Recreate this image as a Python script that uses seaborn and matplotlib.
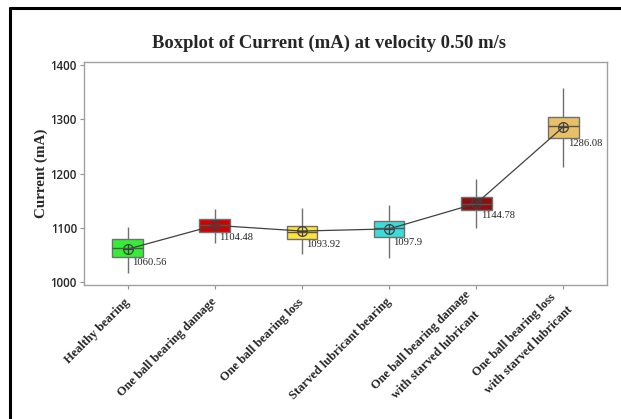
import numpy as np
import pandas as pd
import seaborn as sns
import matplotlib
matplotlib.use("Agg")
import matplotlib.pyplot as plt
from matplotlib.lines import Line2D

categories = [
    "Healthy bearing",
    "One ball bearing damage",
    "One ball bearing loss",
    "Starved lubricant bearing",
    "One ball bearing damage\nwith starved lubricant",
    "One ball bearing loss\nwith starved lubricant",
]
whisker_low = [1017, 1071, 1051, 1045, 1099, 1212]
q1 = [1047, 1093, 1080, 1083, 1133, 1266]
median = [1062, 1105, 1092, 1099, 1143, 1288]
q3 = [1079, 1116, 1104, 1113, 1157, 1304]
whisker_high = [1102, 1134, 1136, 1142, 1189, 1358]
means = [1060.56, 1104.48, 1093.92, 1097.9, 1144.78, 1286.08]
mean_labels = ["1060.56", "1104.48", "1093.92", "1097.9", "1144.78", "1286.08"]
colors = ["#33ee33", "#d40000", "#ffe23a", "#3cdcdc", "#8c1010", "#e8c068"]
yticks = [1000, 1100, 1200, 1300, 1400]

rows = []
for c, a, b, m, d, e in zip(categories, whisker_low, q1, median, q3, whisker_high):
    for v in (a, b, m, d, e):
        rows.append({"group": c, "current": v})
df = pd.DataFrame(rows)

sns.set_style("white")
fig = plt.figure(figsize=(6.21, 4.19), dpi=100)
ax = fig.add_axes([84 / 621, 1 - 285 / 419, (607 - 84) / 621, (285 - 62) / 419])

edge = "#707070"
sns.boxplot(data=df, x="group", y="current", hue="group", order=categories,
            palette=colors, saturation=1, legend=False, whis=(0, 100),
            width=0.35, linewidth=1.0, linecolor=edge, ax=ax,
            medianprops={"color": "#555555", "linewidth": 1.0},
            whiskerprops={"color": edge}, capprops={"linewidth": 0},
            showfliers=False)

sns.pointplot(x=categories, y=means, order=categories, color="#404040",
              markers="o", markersize=7, markerfacecolor="none",
              markeredgecolor="#404040", markeredgewidth=0.9,
              linewidth=0.9, errorbar=None, ax=ax)
ax.scatter(np.arange(len(categories)), means, marker="+", s=55,
           color="#404040", linewidths=0.9, zorder=5)

for i, (lo, lab) in enumerate(zip(q1, mean_labels)):
    ax.text(i + 0.05, lo - 2.5, lab, ha="left", va="top",
            fontsize=7.6, family="Liberation Serif", color="#222222")

ax.set_xlim(-0.5, 5.5)
ax.set_ylim(994.5, 1405.5)
ax.set_yticks(yticks)
ax.set_yticklabels([str(t) for t in yticks], fontsize=8.3,
                   family="Open Sans", fontweight="semibold")
ax.set_xticks(range(len(categories)))
ax.set_xticklabels(categories, rotation=45, ha="right", va="center",
                   rotation_mode="anchor", fontsize=9,
                   family="Liberation Serif", fontweight="bold",
                   multialignment="center", linespacing=2.0)
ax.tick_params(axis="both", which="both", direction="out", length=3,
               width=0.8, color="#909090", bottom=True, left=True)
ax.tick_params(axis="x", pad=8)
ax.tick_params(axis="y", pad=2)
ax.set_xlabel("")
ax.set_ylabel("Current (mA)", fontsize=10.8, family="Liberation Serif",
              fontweight="bold", labelpad=2)
for s in ax.spines.values():
    s.set_color("#a0a0a0")
    s.set_linewidth(1.0)

fig.text(329 / 621, 1 - 43 / 419, "Boxplot of Current (mA) at velocity 0.50 m/s",
         ha="center", va="center", fontsize=13.4, family="Liberation Serif",
         fontweight="bold")

fig.add_artist(Line2D([10 / 621, 1], [1 - 8 / 419, 1 - 8 / 419],
                      transform=fig.transFigure, color="black", linewidth=2.2))
fig.add_artist(Line2D([10 / 621, 10 / 621], [0, 1 - 8 / 419],
                      transform=fig.transFigure, color="black", linewidth=2.2))

fig.savefig("out.png", dpi=100)
